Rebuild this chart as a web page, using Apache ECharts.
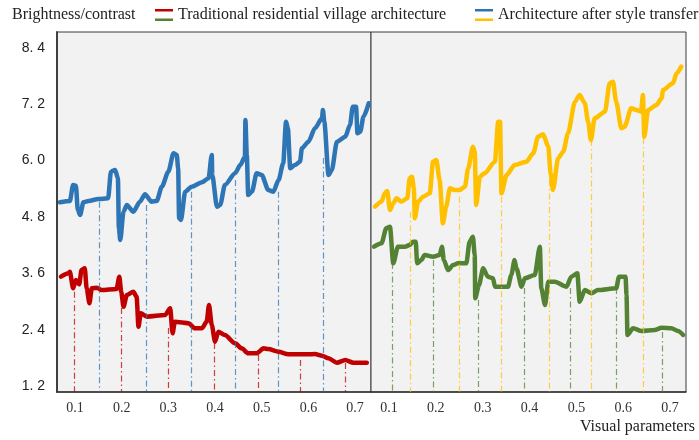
<!DOCTYPE html>
<html>
<head>
<meta charset="utf-8">
<script src="https://cdn.jsdelivr.net/npm/echarts@6/dist/echarts.min.js"></script>
<style>
  html, body { margin: 0; padding: 0; background: #ffffff; }
  #chart { width: 699px; height: 440px; }
</style>
</head>
<body>
<div id="chart"></div>
<script>
// Axis ticks and extents (both panels share the same scales)
const X_TICKS = [0.1, 0.2, 0.3, 0.4, 0.5, 0.6, 0.7];
const Y_TICKS = [1.2, 2.4, 3.6, 4.8, 6.0, 7.2, 8.4];
const X_RANGE = [0.0615, 0.734];
const Y_RANGE = [1.072, 8.74];

const NAME_TRADITIONAL = 'Traditional residential village architecture';
const NAME_TRANSFER = 'Architecture after style transfer';
const Y_TITLE = 'Brightness/contrast';
const X_TITLE = 'Visual parameters';

// Left panel: after style transfer  [visual parameter, brightness/contrast]
const transferLeft = [
  [0.068,5.113],[0.089,5.141],[0.096,5.481],[0.102,5.467],[0.106,4.949],[0.111,4.842],[0.118,5.113],
  [0.129,5.141],[0.150,5.183],[0.171,5.198],[0.177,5.765],[0.186,5.801],[0.192,5.624],[0.194,4.559],
  [0.197,4.310],[0.204,4.913],[0.211,5.055],[0.225,4.913],[0.239,5.126],[0.250,5.283],[0.264,5.126],
  [0.275,5.141],[0.286,5.445],[0.300,5.765],[0.311,6.157],[0.318,6.120],[0.321,5.837],[0.323,4.772],
  [0.327,4.736],[0.336,5.339],[0.350,5.445],[0.372,5.539],[0.386,5.624],[0.393,6.120],[0.394,5.694],
  [0.404,5.019],[0.411,5.055],[0.421,5.481],[0.443,5.731],[0.454,5.907],[0.464,6.084],[0.465,6.866],
  [0.468,6.120],[0.471,5.268],[0.479,5.339],[0.489,5.731],[0.500,5.694],[0.514,5.375],[0.525,5.339],
  [0.536,5.588],[0.546,5.944],[0.552,6.830],[0.556,6.689],[0.561,5.837],[0.571,5.907],[0.582,5.978],
  [0.586,6.263],[0.600,6.404],[0.614,6.689],[0.629,6.902],[0.631,7.079],[0.634,6.830],[0.643,5.694],
  [0.650,5.801],[0.661,6.404],[0.679,6.510],[0.689,6.760],[0.695,7.149],[0.702,7.149],[0.705,6.583],
  [0.711,6.617],[0.718,6.936],[0.729,7.222]
];
const transferLeftDrops = [[0.151,5.126],[0.252,5.055],[0.350,5.339],[0.443,5.588],[0.536,5.339],[0.631,6.057]];

// Left panel: traditional residential village
const traditionalLeft = [
  [0.070,3.528],[0.086,3.600],[0.089,3.634],[0.096,3.281],[0.102,3.458],[0.109,3.366],[0.114,3.670],
  [0.121,3.707],[0.125,3.281],[0.131,2.961],[0.136,3.281],[0.147,3.294],[0.157,3.244],[0.189,3.266],
  [0.195,3.528],[0.199,3.208],[0.204,2.889],[0.211,3.138],[0.225,3.208],[0.232,3.102],[0.236,2.463],
  [0.241,2.748],[0.254,2.676],[0.293,2.712],[0.304,2.855],[0.309,2.322],[0.314,2.569],[0.325,2.556],
  [0.343,2.535],[0.357,2.429],[0.372,2.429],[0.382,2.569],[0.387,2.925],[0.393,2.499],[0.400,2.143],
  [0.407,2.356],[0.421,2.286],[0.443,2.109],[0.457,2.002],[0.471,1.896],[0.489,1.896],[0.504,2.002],
  [0.514,1.988],[0.536,1.930],[0.557,1.875],[0.600,1.875],[0.614,1.881],[0.629,1.845],[0.643,1.789],
  [0.661,1.696],[0.679,1.753],[0.696,1.696],[0.725,1.696]
];
const traditionalLeftDrops = [[0.099,3.208],[0.200,2.861],[0.300,2.435],[0.399,2.115],[0.493,1.860],[0.582,1.753],[0.679,1.689]];

// Right panel: after style transfer
const transferRight = [
  [0.070,5.019],[0.084,5.126],[0.091,5.305],[0.096,5.354],[0.102,4.949],[0.109,5.092],[0.116,5.198],
  [0.126,5.126],[0.139,5.198],[0.144,5.624],[0.149,5.658],[0.153,5.411],[0.155,4.772],[0.162,5.126],
  [0.173,5.232],[0.187,5.305],[0.194,5.978],[0.201,6.014],[0.208,5.588],[0.215,4.665],[0.222,5.019],
  [0.230,5.411],[0.240,5.375],[0.251,5.375],[0.262,5.445],[0.269,5.837],[0.279,6.297],[0.283,6.191],
  [0.286,5.055],[0.294,5.658],[0.304,5.731],[0.326,5.978],[0.333,6.830],[0.337,6.830],[0.340,5.305],
  [0.351,5.694],[0.368,5.907],[0.393,5.978],[0.408,6.157],[0.418,6.510],[0.429,6.561],[0.440,6.297],
  [0.445,5.731],[0.450,5.375],[0.461,6.050],[0.472,6.191],[0.482,6.583],[0.497,7.256],[0.507,7.399],
  [0.518,7.222],[0.525,6.830],[0.531,6.440],[0.539,6.902],[0.561,7.043],[0.571,7.648],[0.578,7.682],
  [0.585,7.256],[0.596,6.689],[0.603,6.723],[0.617,7.115],[0.628,7.079],[0.638,7.043],[0.642,7.399],
  [0.645,6.510],[0.653,7.079],[0.671,7.186],[0.682,7.328],[0.685,7.505],[0.706,7.648],[0.714,7.861],
  [0.724,8.002]
];
const transferRightDrops = [[0.146,4.913],[0.249,5.232],[0.339,5.232],[0.441,5.588],[0.532,6.440],[0.642,6.483]];

// Right panel: traditional residential village
const traditionalRight = [
  [0.068,4.167],[0.084,4.239],[0.094,4.559],[0.102,4.593],[0.109,3.813],[0.119,4.167],[0.134,4.167],
  [0.144,4.203],[0.151,4.273],[0.157,4.273],[0.160,3.813],[0.169,3.884],[0.176,3.990],[0.194,3.954],
  [0.208,3.990],[0.213,4.167],[0.217,3.884],[0.226,3.670],[0.237,3.777],[0.247,3.813],[0.265,3.813],
  [0.272,4.273],[0.279,4.380],[0.283,3.990],[0.284,3.068],[0.292,3.351],[0.301,3.707],[0.311,3.528],
  [0.322,3.494],[0.326,3.315],[0.354,3.315],[0.361,3.564],[0.368,3.884],[0.372,3.707],[0.383,3.315],
  [0.390,3.494],[0.411,3.564],[0.422,4.167],[0.425,3.281],[0.433,2.925],[0.440,3.421],[0.454,3.421],
  [0.479,3.315],[0.489,3.528],[0.502,3.600],[0.507,2.995],[0.518,3.244],[0.532,3.174],[0.546,3.244],
  [0.585,3.281],[0.591,3.528],[0.605,3.528],[0.607,3.138],[0.609,2.286],[0.621,2.429],[0.639,2.371],
  [0.667,2.392],[0.682,2.441],[0.703,2.429],[0.717,2.371],[0.728,2.286]
];
const traditionalRightDrops = [[0.107,3.820],[0.194,3.884],[0.290,3.032],[0.388,3.287],[0.486,3.287],[0.585,3.287],[0.683,2.350]];

const COLORS = { red: '#C00000', blue: '#2E75B6', yellow: '#FFC000', green: '#548235' };
const SERIF = '"Liberation Serif", "Times New Roman", serif';
const SANS = '"Liberation Sans", Arial, sans-serif';

function dropLines(points, color) {
  return {
    silent: true,
    symbol: ['none', 'none'],
    label: { show: false },
    emphasis: { disabled: true },
    lineStyle: { color: color, width: 1.2, type: [6, 3, 1.5, 3], opacity: 0.75 },
    data: points.map(([x, y]) => [{ coord: [x, y] }, { coord: [x, Y_RANGE[0]] }])
  };
}

function curve(name, data, drops, color, idx) {
  return {
    name: name,
    type: 'line',
    xAxisIndex: idx,
    yAxisIndex: idx,
    data: data,
    symbol: 'none',
    showSymbol: false,
    smooth: 0.25,
    smoothMonotone: 'x',
    color: color,
    lineStyle: { color: color, width: 4.5, cap: 'round', join: 'round' },
    emphasis: { disabled: true },
    markLine: dropLines(drops, color)
  };
}

function xAxis(idx, withName) {
  const ax = {
    type: 'value',
    gridIndex: idx,
    min: X_RANGE[0],
    max: X_RANGE[1],
    axisLine: { show: true, lineStyle: { color: '#333', width: 1.5 } },
    axisTick: { show: false },
    splitLine: { show: false },
    axisLabel: {
      customValues: X_TICKS,
      formatter: v => v.toFixed(1),
      fontFamily: SERIF, fontSize: 14, color: '#333', margin: 9
    }
  };
  if (withName) {
    ax.name = X_TITLE;
    ax.nameLocation = 'end';
    ax.nameGap = 9;
    ax.nameTextStyle = {
      fontFamily: SERIF, fontSize: 16, color: '#222',
      align: 'right', verticalAlign: 'top', padding: [27, 0, 0, 0]
    };
  }
  return ax;
}

function yAxis(idx, showLabels) {
  return {
    type: 'value',
    gridIndex: idx,
    min: Y_RANGE[0],
    max: Y_RANGE[1],
    axisLine: { show: showLabels, lineStyle: { color: '#404040', width: 2 } },
    axisTick: { show: false },
    splitLine: { show: false },
    axisLabel: {
      show: showLabels,
      customValues: Y_TICKS,
      formatter: v => v.toFixed(1).replace('.', '. '),
      fontFamily: SANS, fontSize: 14, color: '#222', margin: 12
    }
  };
}

const legendText = { fontFamily: SERIF, fontSize: 16, color: '#222' };
const legendBase = {
  top: 2, icon: 'rect', itemWidth: 18, itemHeight: 12, itemGap: 0,
  itemStyle: { opacity: 0 }, textStyle: legendText, selectedMode: false
};

const chart = echarts.init(document.getElementById('chart'), null, { renderer: 'canvas' });
chart.setOption({
  animation: false,
  backgroundColor: '#ffffff',
  title: {
    text: Y_TITLE, left: 7, top: 2,
    textStyle: { fontFamily: SERIF, fontSize: 16, fontWeight: 'normal', color: '#222' }
  },
  legend: [
    Object.assign({ left: 150, data: [NAME_TRADITIONAL] }, legendBase),
    Object.assign({ left: 470, data: [NAME_TRANSFER] }, legendBase)
  ],
  // two-colour legend keys (one stroke per panel)
  graphic: [
    { type: 'rect', left: 155, top: 9, shape: { width: 18, height: 2.5 }, style: { fill: COLORS.red } },
    { type: 'rect', left: 155, top: 18.5, shape: { width: 18, height: 2.5 }, style: { fill: COLORS.green } },
    { type: 'rect', left: 475, top: 9, shape: { width: 18, height: 2.5 }, style: { fill: COLORS.blue } },
    { type: 'rect', left: 475, top: 18.5, shape: { width: 18, height: 2.5 }, style: { fill: COLORS.yellow } }
  ],
  grid: [
    { left: 57, top: 32, width: 314, bottom: 48, show: true, backgroundColor: '#F2F2F2', borderColor: '#3a3a3a', borderWidth: 1 },
    { left: 371, top: 32, width: 315, bottom: 48, show: true, backgroundColor: '#F2F2F2', borderColor: '#3a3a3a', borderWidth: 1 }
  ],
  xAxis: [xAxis(0, false), xAxis(1, true)],
  yAxis: [yAxis(0, true), yAxis(1, false)],
  series: [
    curve(NAME_TRANSFER, transferLeft, transferLeftDrops, COLORS.blue, 0),
    curve(NAME_TRADITIONAL, traditionalLeft, traditionalLeftDrops, COLORS.red, 0),
    curve(NAME_TRANSFER, transferRight, transferRightDrops, COLORS.yellow, 1),
    curve(NAME_TRADITIONAL, traditionalRight, traditionalRightDrops, COLORS.green, 1)
  ]
});
</script>
</body>
</html>
